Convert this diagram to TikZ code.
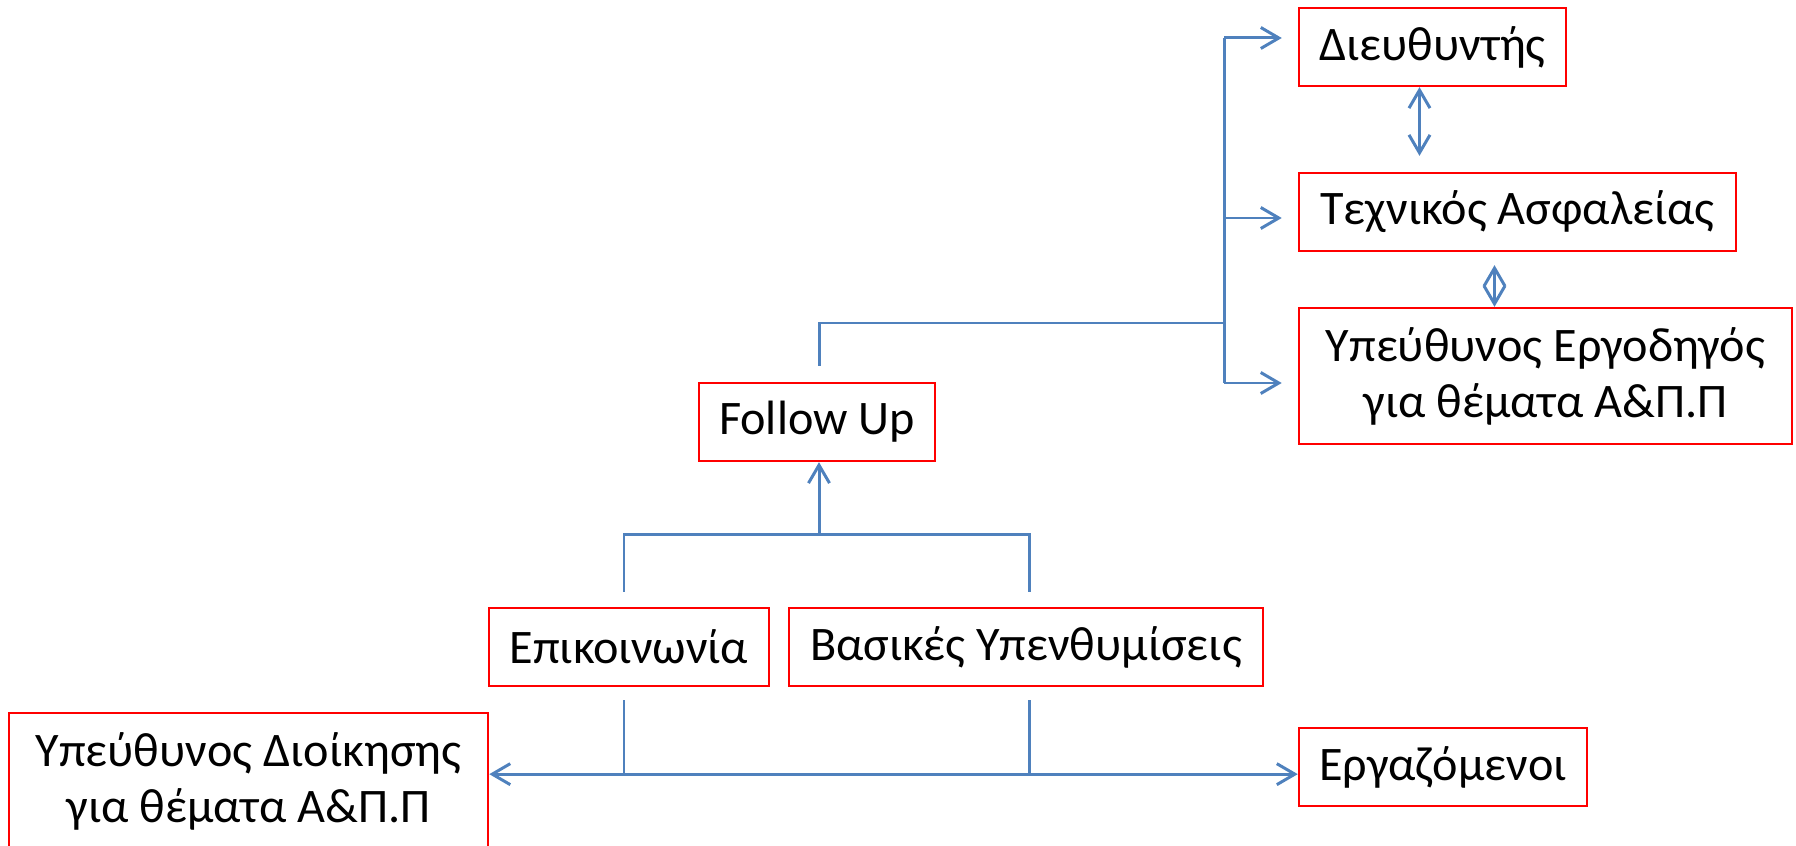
\documentclass[tikz,border=0pt]{standalone}
\usepackage{fontspec}
\setmainfont{Carlito}
\usetikzlibrary{arrows.meta,calc}
\definecolor{linkblue}{HTML}{4F81BD}
\begin{document}
\begin{tikzpicture}[x=0.01cm, y=-0.01cm,
    box/.style={draw=red, line width=0.65pt, inner sep=0pt, align=center, minimum height=0.78cm, font=\fontsize{13.7}{15.9}\selectfont},
    tall/.style={box, minimum height=1.36cm},
    link/.style={draw=linkblue, line width=0.85pt},
    arr/.style={link, -{Straight Barb[length=0.18cm, width=0.21cm]}},
    dbl/.style={link, {Straight Barb[length=0.18cm, width=0.21cm]}-{Straight Barb[length=0.18cm, width=0.21cm]}}]
    \useasboundingbox (0,0) rectangle (1796,846);
    \node[box, minimum width=2.67cm] (dir) at (1432.5,47) {Διευθυντής};
    \node[box, minimum width=4.37cm] (tech) at (1517.5,212) {Τεχνικός Ασφαλείας};
    \node[tall, minimum width=4.93cm] (erg) at (1545.5,376) {Υπεύθυνος Εργοδηγός\\για θέματα Α\&Π.Π};
    \node[box, minimum width=2.36cm] (follow) at (817,422) {Follow Up};
    \node[box, minimum width=2.80cm] (epik) at (629,647) {Επικοινωνία};
    \node[box, minimum width=4.74cm] (vas) at (1026,647) {Βασικές Υπενθυμίσεις};
    \node[tall, minimum width=4.79cm] (dioik) at (248.5,781) {Υπεύθυνος Διοίκησης\\για θέματα Α\&Π.Π};
    \node[box, minimum width=2.88cm] (ergaz) at (1443,767) {Εργαζόμενοι};
    \coordinate (bus) at (1224,38);
    \coordinate (busend) at ($(bus |- erg.west)+(0,7)$);
    \draw[link] ($(follow.north)+(2,-16)$) |- ($(bus)+(0,285)$);
    \draw[link] (bus) -- (busend);
    \draw[arr] (bus) -- ($(bus -| dir.west)+(-16,0)$);
    \draw[arr] ($(bus |- tech.west)+(0,6)$) -- ($(tech.west)+(-16,6)$);
    \draw[arr] (busend) -- ($(erg.west)+(-16,7)$);
    \coordinate (dt) at ($(dir.south)+(-13,0)$);
    \draw[dbl] (dt) -- ($(dt |- tech.north)+(0,-16)$);
    \coordinate (te) at ($(tech.south)+(-23,13)$);
    \draw[dbl] (te) -- (te |- erg.north);
    \coordinate (fork) at ($(follow.south)+(2,72)$);
    \draw[arr] (fork) -- (follow.south -| fork);
    \draw[link] ($(epik.north)+(-5,-15)$) |- (fork) -| ($(vas.north)+(3,-15)$);
    \coordinate (low) at ($(epik.south)+(-5,87)$);
    \coordinate (vlow) at ($(vas.south)+(3,87)$);
    \draw[link] ($(epik.south)+(-5,13)$) -- (low);
    \draw[link] ($(vas.south)+(3,13)$) -- (vlow);
    \draw[dbl] (dioik.east |- low) -- (ergaz.west |- low);
\end{tikzpicture}
\end{document}
